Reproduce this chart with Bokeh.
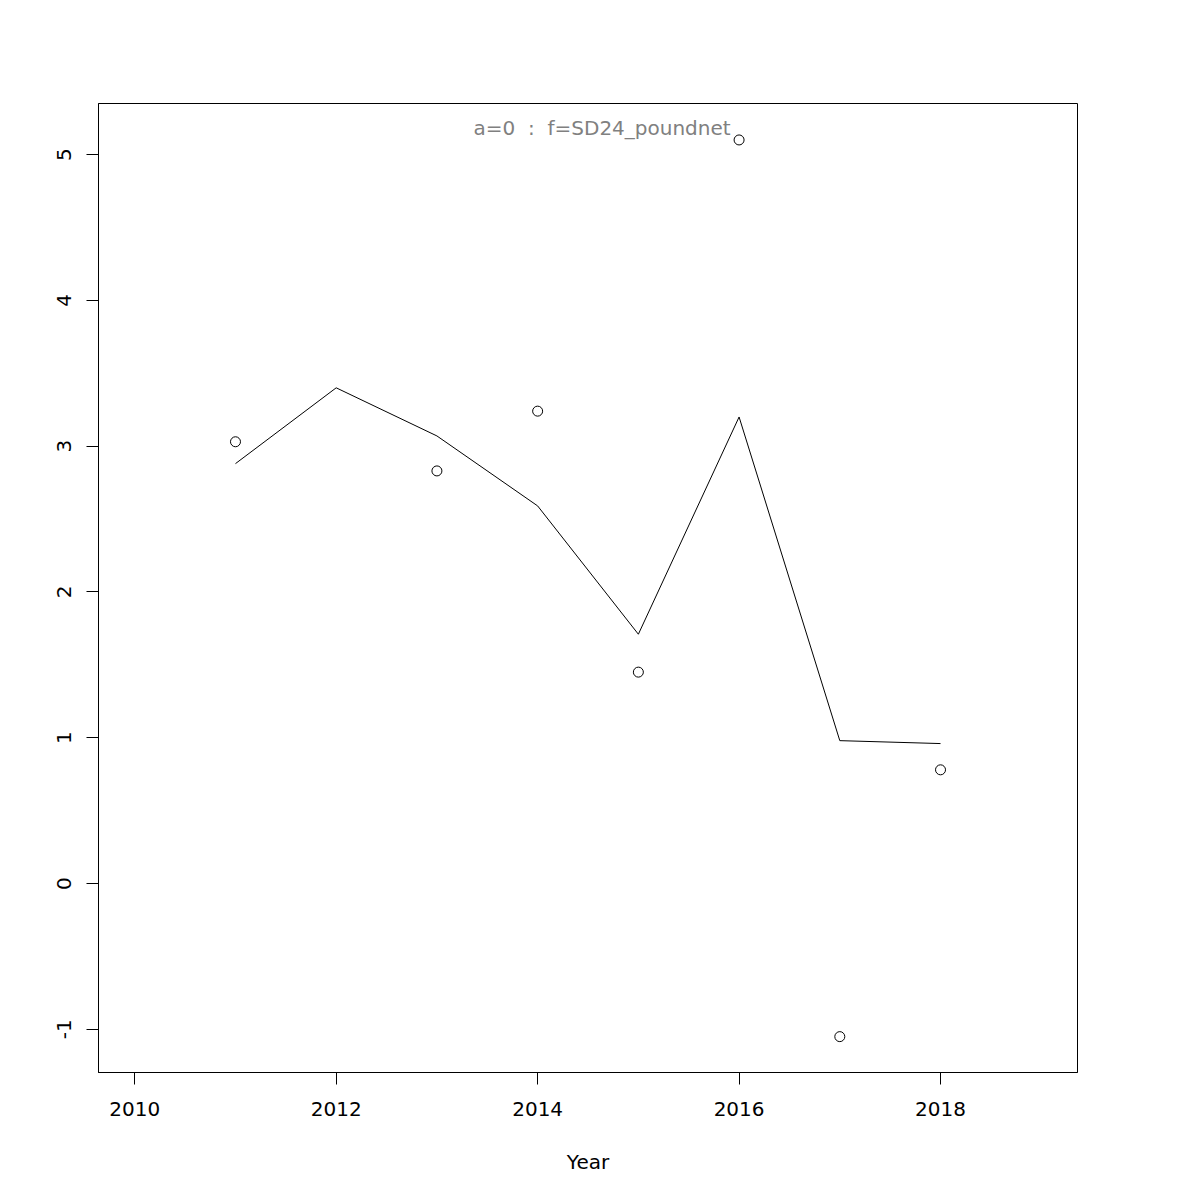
from bokeh.plotting import figure
from bokeh.models import Range1d, FixedTicker, Label, PrintfTickFormatter
from bokeh.embed import file_html
from bokeh.resources import INLINE

years_pts = [2011, 2013, 2014, 2015, 2016, 2017, 2018]
obs = [3.03, 2.83, 3.24, 1.45, 5.10, -1.05, 0.78]
years_line = [2011, 2012, 2013, 2014, 2015, 2016, 2017, 2018]
fit = [2.88, 3.40, 3.07, 2.59, 1.71, 3.20, 0.98, 0.96]
x_ticks = [2010, 2012, 2014, 2016, 2018]
y_ticks = [-1, 0, 1, 2, 3, 4, 5]
title_text = "a=0\u00a0\u00a0:\u00a0\u00a0f=SD24_poundnet"

FONT = "DejaVu Sans"
FS = "20px"

p = figure(width=1184, height=1184, output_backend="svg", toolbar_location=None,
           frame_width=979, frame_height=969,
           min_border_left=98, min_border_top=103, min_border_right=10, min_border_bottom=10,
           x_range=Range1d(2009.64, 2019.36), y_range=Range1d(-1.296, 5.35))
p.grid.visible = False
p.outline_line_color = "black"
p.outline_line_width = 1
p.outline_line_alpha = 1
p.background_fill_color = "white"
p.border_fill_color = "white"

for ax in [p.xaxis[0], p.yaxis[0]]:
    ax.axis_line_color = "black"
    ax.major_tick_line_color = "black"
    ax.major_tick_out = 12
    ax.major_tick_in = 0
    ax.minor_tick_line_color = None
    ax.major_label_text_font = FONT
    ax.major_label_text_font_size = FS
    ax.major_label_text_color = "black"
    ax.axis_label_text_font = FONT
    ax.axis_label_text_font_size = FS
    ax.axis_label_text_font_style = "normal"
    ax.axis_label_text_color = "black"

p.xaxis.ticker = FixedTicker(ticks=x_ticks)
p.yaxis.ticker = FixedTicker(ticks=y_ticks)
p.xaxis.formatter = PrintfTickFormatter(format="%d")
p.yaxis.formatter = PrintfTickFormatter(format="%d")
p.xaxis.axis_label = "Year"
p.xaxis.major_label_standoff = 17
p.xaxis.axis_label_standoff = 31
p.yaxis.major_label_orientation = "vertical"
p.yaxis.major_label_standoff = 15

p.line(years_line, fit, line_color="black", line_width=1)
p.scatter(years_pts, obs, marker="circle", size=10, fill_color=None, line_color="black", line_width=1)

p.add_layout(Label(x=2014.64, y=5.185, text=title_text, text_align="center", text_baseline="middle",
                   text_font=FONT, text_font_size=FS, text_color="#808080"))

open("out.html", "w").write(file_html(p, INLINE))
